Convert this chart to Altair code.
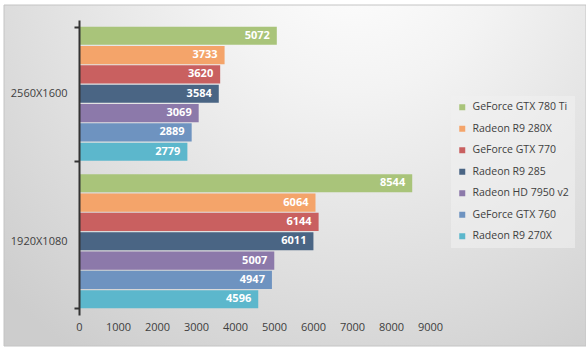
import altair as alt
import pandas as pd

resolutions = ["2560X1600", "1920X1080"]
gpus = ["GeForce GTX 780 Ti", "Radeon R9 280X", "GeForce GTX 770", "Radeon R9 285",
        "Radeon HD 7950 v2", "GeForce GTX 760", "Radeon R9 270X"]
scores_2560 = [5072, 3733, 3620, 3584, 3069, 2889, 2779]
scores_1920 = [8544, 6064, 6144, 6011, 5007, 4947, 4596]
colors = ["#A9C47A", "#F4A46A", "#C96060", "#4A6584", "#8C79AA", "#6E93C0", "#5CB7CC"]
x_ticks = [0, 1000, 2000, 3000, 4000, 5000, 6000, 7000, 8000, 9000]

rows = []
for res, vals in zip(resolutions, [scores_2560, scores_1920]):
    for g, v in zip(gpus, vals):
        rows.append({"res": res, "gpu": g, "score": v})
df = pd.DataFrame(rows)

W, H = 351, 295
FONT = "Open Sans"

bg = alt.Chart(pd.DataFrame({"a": [0]})).mark_rect(
    stroke="#c4c4c4", strokeWidth=1,
    fill=alt.RadialGradient(
        gradient="radial", x1=0.6, y1=0.1, r1=0, x2=0.6, y2=0.1, r2=0.85,
        stops=[alt.GradientStop(offset=0, color="#ffffff"),
               alt.GradientStop(offset=0.3, color="#f3f3f3"),
               alt.GradientStop(offset=1, color="#cdcdcd")]),
).encode(x=alt.value(-75), x2=alt.value(507), y=alt.value(-15), y2=alt.value(326))

y_enc = alt.Y("res:N", sort=resolutions,
              scale=alt.Scale(paddingInner=0.09, paddingOuter=0.045),
              axis=alt.Axis(title=None, domainColor="#333333", domainWidth=2,
                            tickColor="#333333", tickWidth=2, tickSize=5, tickBand="extent",
                            labelFont=FONT, labelFontSize=11, labelColor="#404040",
                            labelPadding=7, zindex=2))
yoff = alt.YOffset("gpu:N", sort=gpus, scale=alt.Scale(paddingInner=0.06, paddingOuter=0))
x_enc = alt.X("score:Q", scale=alt.Scale(domain=[0, 9000], nice=False),
              axis=alt.Axis(values=x_ticks, title=None, grid=False, domain=False, ticks=False,
                            labelFont=FONT, labelFontSize=11, labelColor="#404040",
                            labelPadding=6, format="d", zindex=2,
                            labelOverlap=False, labelFlush=False))

base = alt.Chart(df)
bars = base.mark_bar().encode(
    x=x_enc, y=y_enc, yOffset=yoff,
    color=alt.Color("gpu:N", sort=gpus, scale=alt.Scale(domain=gpus, range=colors),
                    legend=alt.Legend(orient="none", legendX=372, legendY=76, title=None,
                                      symbolType="square", symbolSize=36, symbolStrokeWidth=0,
                                      labelFont=FONT, labelFontSize=10.5, labelColor="#404040",
                                      rowPadding=10.5, labelOffset=5, padding=6,
                                      fillColor="rgba(240,240,240,0.6)")),
)
labels = base.mark_text(align="right", baseline="middle", dx=-7, color="white",
                        fontWeight="bold", font=FONT, fontSize=11).encode(
    x=x_enc, y=y_enc, yOffset=yoff, text="score:Q")

chart = alt.layer(bg, bars, labels).properties(
    width=W, height=H, background="white",
    autosize=alt.AutoSizeParams(type="none"),
    padding={"left": 79, "top": 20, "right": 156, "bottom": 38},
).configure_view(stroke=None)

chart.save("out.html", embed_options={"renderer": "svg", "actions": False})
